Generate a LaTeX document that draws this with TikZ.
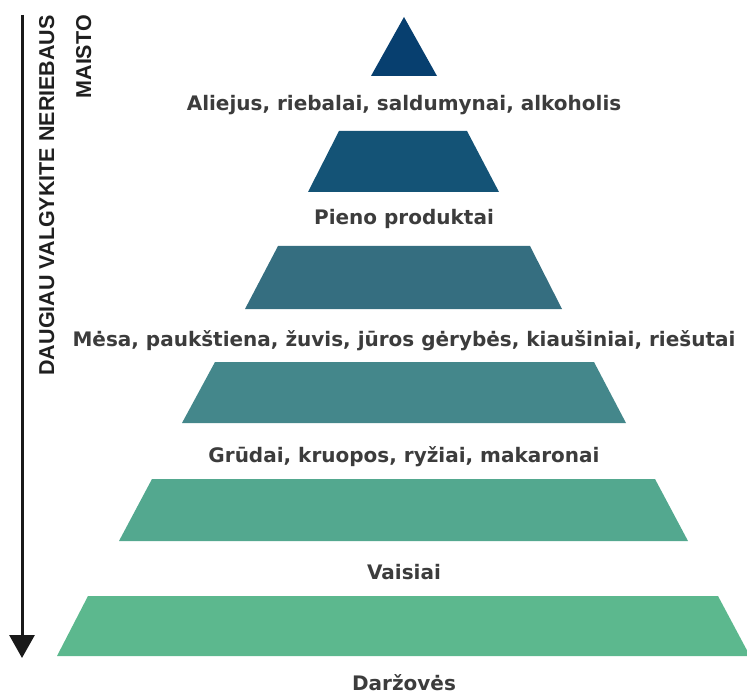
\documentclass[tikz,border=0pt]{standalone}
\usepackage{fontspec}
\usepackage{tikz}
\usepackage{xcolor}
\usetikzlibrary{arrows.meta}
\newfontfamily\labelfont{DejaVu Sans}
\newfontfamily\sidefont{Liberation Sans}
\definecolor{tierA}{HTML}{073F6F}
\definecolor{tierB}{HTML}{145376}
\definecolor{tierC}{HTML}{356E80}
\definecolor{tierD}{HTML}{44878B}
\definecolor{tierE}{HTML}{53A88F}
\definecolor{tierF}{HTML}{5CB88E}
\definecolor{labelc}{HTML}{3C3C3C}
\tikzset{
  tierlabel/.style={text=labelc, font=\labelfont\bfseries\fontsize{20}{23}\selectfont, inner sep=0pt},
  sidelabel/.style={text=black!88, font=\sidefont\bfseries\fontsize{21.5}{37}\selectfont, align=right, rotate=90, inner sep=0pt},
  guide/.style={draw=black!90, line width=3pt, -{Triangle[width=25pt,length=23pt]}},
}
\begin{document}
\begin{tikzpicture}[x=1pt,y=-1pt]
\useasboundingbox (0,0) rectangle (747,695);
\fill[tierA] (404,17) -- (437,76) -- (371,76) -- cycle;
\fill[tierB] (339,131) -- (467,131) -- (499,192) -- (308,192) -- cycle;
\fill[tierC] (278,246) -- (530,246) -- (562,309) -- (245,309) -- cycle;
\fill[tierD] (215,362) -- (594,362) -- (626,423) -- (182,423) -- cycle;
\fill[tierE] (152,479) -- (655,479) -- (688,541) -- (119,541) -- cycle;
\fill[tierF] (88,596) -- (718,596) -- (750,656) -- (57,656) -- cycle;
\node[tierlabel, anchor=base] (fats) at (404,111) {Aliejus, riebalai, saldumynai, alkoholis};
\node[tierlabel, anchor=base] (dairy) at (404,225) {Pieno produktai};
\node[tierlabel, anchor=base] (meat) at (404,346) {Mėsa, paukštiena, žuvis, jūros gėrybės, kiaušiniai, riešutai};
\node[tierlabel, anchor=base] (grain) at (404,462) {Grūdai, kruopos, ryžiai, makaronai};
\node[tierlabel, anchor=base] (fruit) at (404,579) {Vaisiai};
\node[tierlabel, anchor=base] (veg) at (404,690) {Daržovės};
\coordinate (top) at (22,15);
\coordinate (bottom) at (22,658);
\draw[guide] (top) -- (bottom);
\node[sidelabel, anchor=north east] (advice) at (39,15) {DAUGIAU VALGYKITE NERIEBAUS\\MAISTO};
\end{tikzpicture}
\end{document}
